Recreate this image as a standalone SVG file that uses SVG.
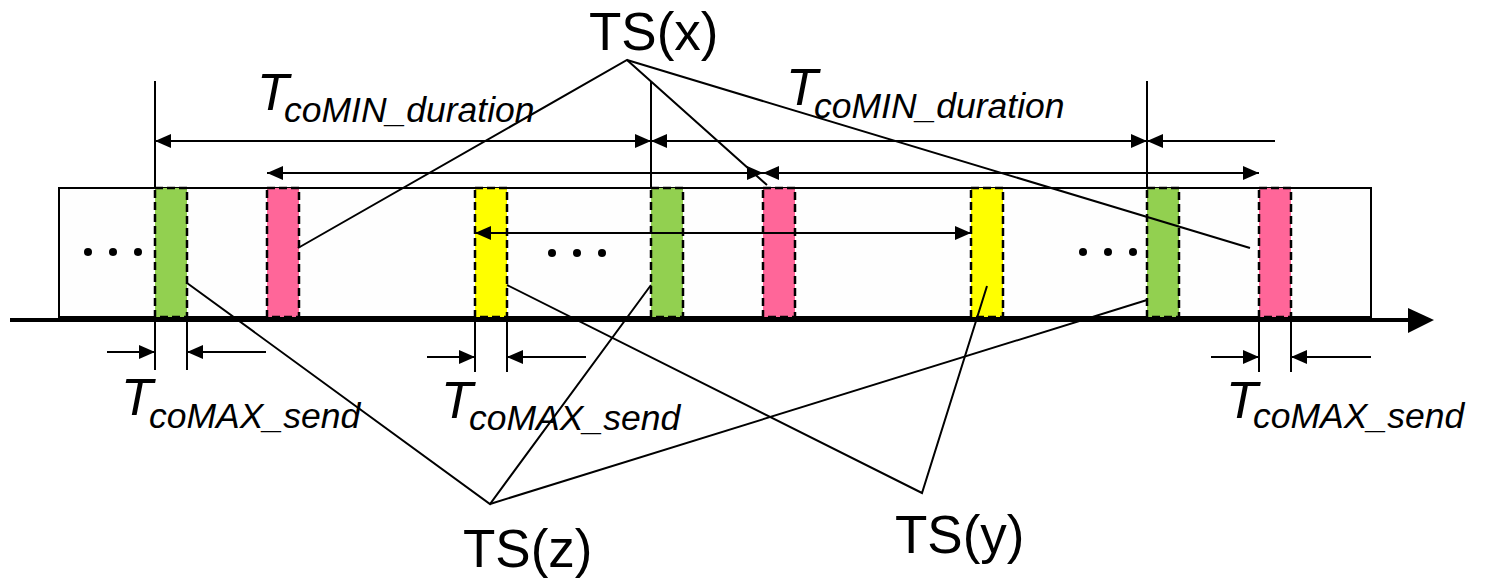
<svg xmlns="http://www.w3.org/2000/svg" width="1485" height="579" viewBox="0 0 1485 579">
<defs>
<marker id="ah" markerUnits="userSpaceOnUse" markerWidth="17" markerHeight="15" refX="16" refY="7" orient="auto-start-reverse" viewBox="0 0 17 15">
<path d="M0,0 L16,7 L0,14 z" fill="#000"/>
</marker>
<style>
.ln{stroke:#000;stroke-width:2;fill:none}
.dim{stroke:#000;stroke-width:2;fill:none}
.bar{stroke:#000;stroke-width:2.5;stroke-dasharray:8,4}
.g{fill:#92D050}.p{fill:#FF6699}.y{fill:#FFFF00}
.lab{font-family:"Liberation Sans",Arial,sans-serif;fill:#000}
.it{font-family:"Liberation Sans",Arial,sans-serif;font-style:italic;fill:#000}
</style>
</defs>

<g id="frame">
<rect x="59" y="188" width="1312" height="129" fill="#FEFEFE" stroke="#000" stroke-width="2"/>
</g>

<g id="slots">
<rect id="green1" class="bar g" x="155" y="188" width="32" height="129"/>
<rect id="pink1" class="bar p" x="267" y="188" width="32" height="129"/>
<rect id="yellow1" class="bar y" x="475" y="188" width="32" height="129"/>
<rect id="green2" class="bar g" x="651" y="188" width="32" height="129"/>
<rect id="pink2" class="bar p" x="763" y="188" width="32" height="129"/>
<rect id="yellow2" class="bar y" x="971" y="188" width="32" height="129"/>
<rect id="green3" class="bar g" x="1147" y="188" width="32" height="129"/>
<rect id="pink3" class="bar p" x="1259" y="188" width="32" height="129"/>
</g>

<g id="dots" fill="#000">
<circle cx="88" cy="252" r="4"/><circle cx="113" cy="252" r="4"/><circle cx="138" cy="252" r="4"/>
<circle cx="552" cy="253" r="4"/><circle cx="577" cy="253" r="4"/><circle cx="602" cy="253" r="4"/>
<circle cx="1083" cy="252" r="4"/><circle cx="1108" cy="252" r="4"/><circle cx="1133" cy="252" r="4"/>
</g>

<g id="axis">
<line x1="10" y1="320" x2="1412" y2="320" stroke="#000" stroke-width="4"/>
<polygon points="1408,308 1434,320 1408,333" fill="#000"/>
</g>

<g id="connectors">
<line class="ln" x1="155" y1="81" x2="155" y2="188"/>
<line class="ln" x1="651" y1="81" x2="651" y2="188"/>
<line class="ln" x1="1147" y1="81" x2="1147" y2="188"/>
<line class="dim" x1="155" y1="141" x2="651" y2="141" marker-start="url(#ah)" marker-end="url(#ah)"/>
<line class="dim" x1="651" y1="141" x2="1147" y2="141" marker-start="url(#ah)" marker-end="url(#ah)"/>
<line class="dim" x1="1147" y1="141" x2="1275" y2="141" marker-start="url(#ah)"/>
<line class="dim" x1="267" y1="173" x2="763" y2="173" marker-start="url(#ah)" marker-end="url(#ah)"/>
<line class="dim" x1="763" y1="173" x2="1259" y2="173" marker-start="url(#ah)" marker-end="url(#ah)"/>
<line class="dim" x1="475" y1="233" x2="971" y2="233" marker-start="url(#ah)" marker-end="url(#ah)"/>
<line class="ln" x1="155" y1="317" x2="155" y2="370"/>
<line class="ln" x1="187" y1="317" x2="187" y2="370"/>
<line class="dim" x1="107" y1="352" x2="155" y2="352" marker-end="url(#ah)"/>
<line class="dim" x1="266" y1="352" x2="187" y2="352" marker-end="url(#ah)"/>
<line class="ln" x1="475" y1="317" x2="475" y2="372"/>
<line class="ln" x1="507" y1="317" x2="507" y2="372"/>
<line class="dim" x1="427" y1="357" x2="475" y2="357" marker-end="url(#ah)"/>
<line class="dim" x1="586" y1="357" x2="507" y2="357" marker-end="url(#ah)"/>
<line class="ln" x1="1259" y1="317" x2="1259" y2="372"/>
<line class="ln" x1="1291" y1="317" x2="1291" y2="372"/>
<line class="dim" x1="1211" y1="357" x2="1259" y2="357" marker-end="url(#ah)"/>
<line class="dim" x1="1371" y1="357" x2="1291" y2="357" marker-end="url(#ah)"/>
<polyline class="ln" points="298,248 627,60 767,185"/>
<line class="ln" x1="627" y1="60" x2="1250" y2="248"/>
<polyline class="ln" points="187,283 490,504 651,285"/>
<line class="ln" x1="490" y1="504" x2="1147" y2="300"/>
<polyline class="ln" points="507,285 922,493 987,286"/>
</g>

<g id="labels">
<text class="lab" x="589" y="50" font-size="53">TS(x)</text>
<text class="lab" x="463" y="567" font-size="53">TS(z)</text>
<text class="lab" x="895" y="553" font-size="53">TS(y)</text>

<text class="it" x="257" y="110" font-size="52">T</text>
<text class="it" x="284" y="122" font-size="35.5">coMIN_duration</text>
<text class="it" x="786" y="105" font-size="52">T</text>
<text class="it" x="814" y="118" font-size="35.5">coMIN_duration</text>

<text class="it" x="121" y="415" font-size="52">T</text>
<text class="it" x="149" y="428" font-size="35.5">coMAX_send</text>
<text class="it" x="441" y="418" font-size="52">T</text>
<text class="it" x="469" y="430" font-size="35.5">coMAX_send</text>
<text class="it" x="1226" y="418" font-size="52">T</text>
<text class="it" x="1253" y="428" font-size="35.5">coMAX_send</text>
</g>
</svg>
